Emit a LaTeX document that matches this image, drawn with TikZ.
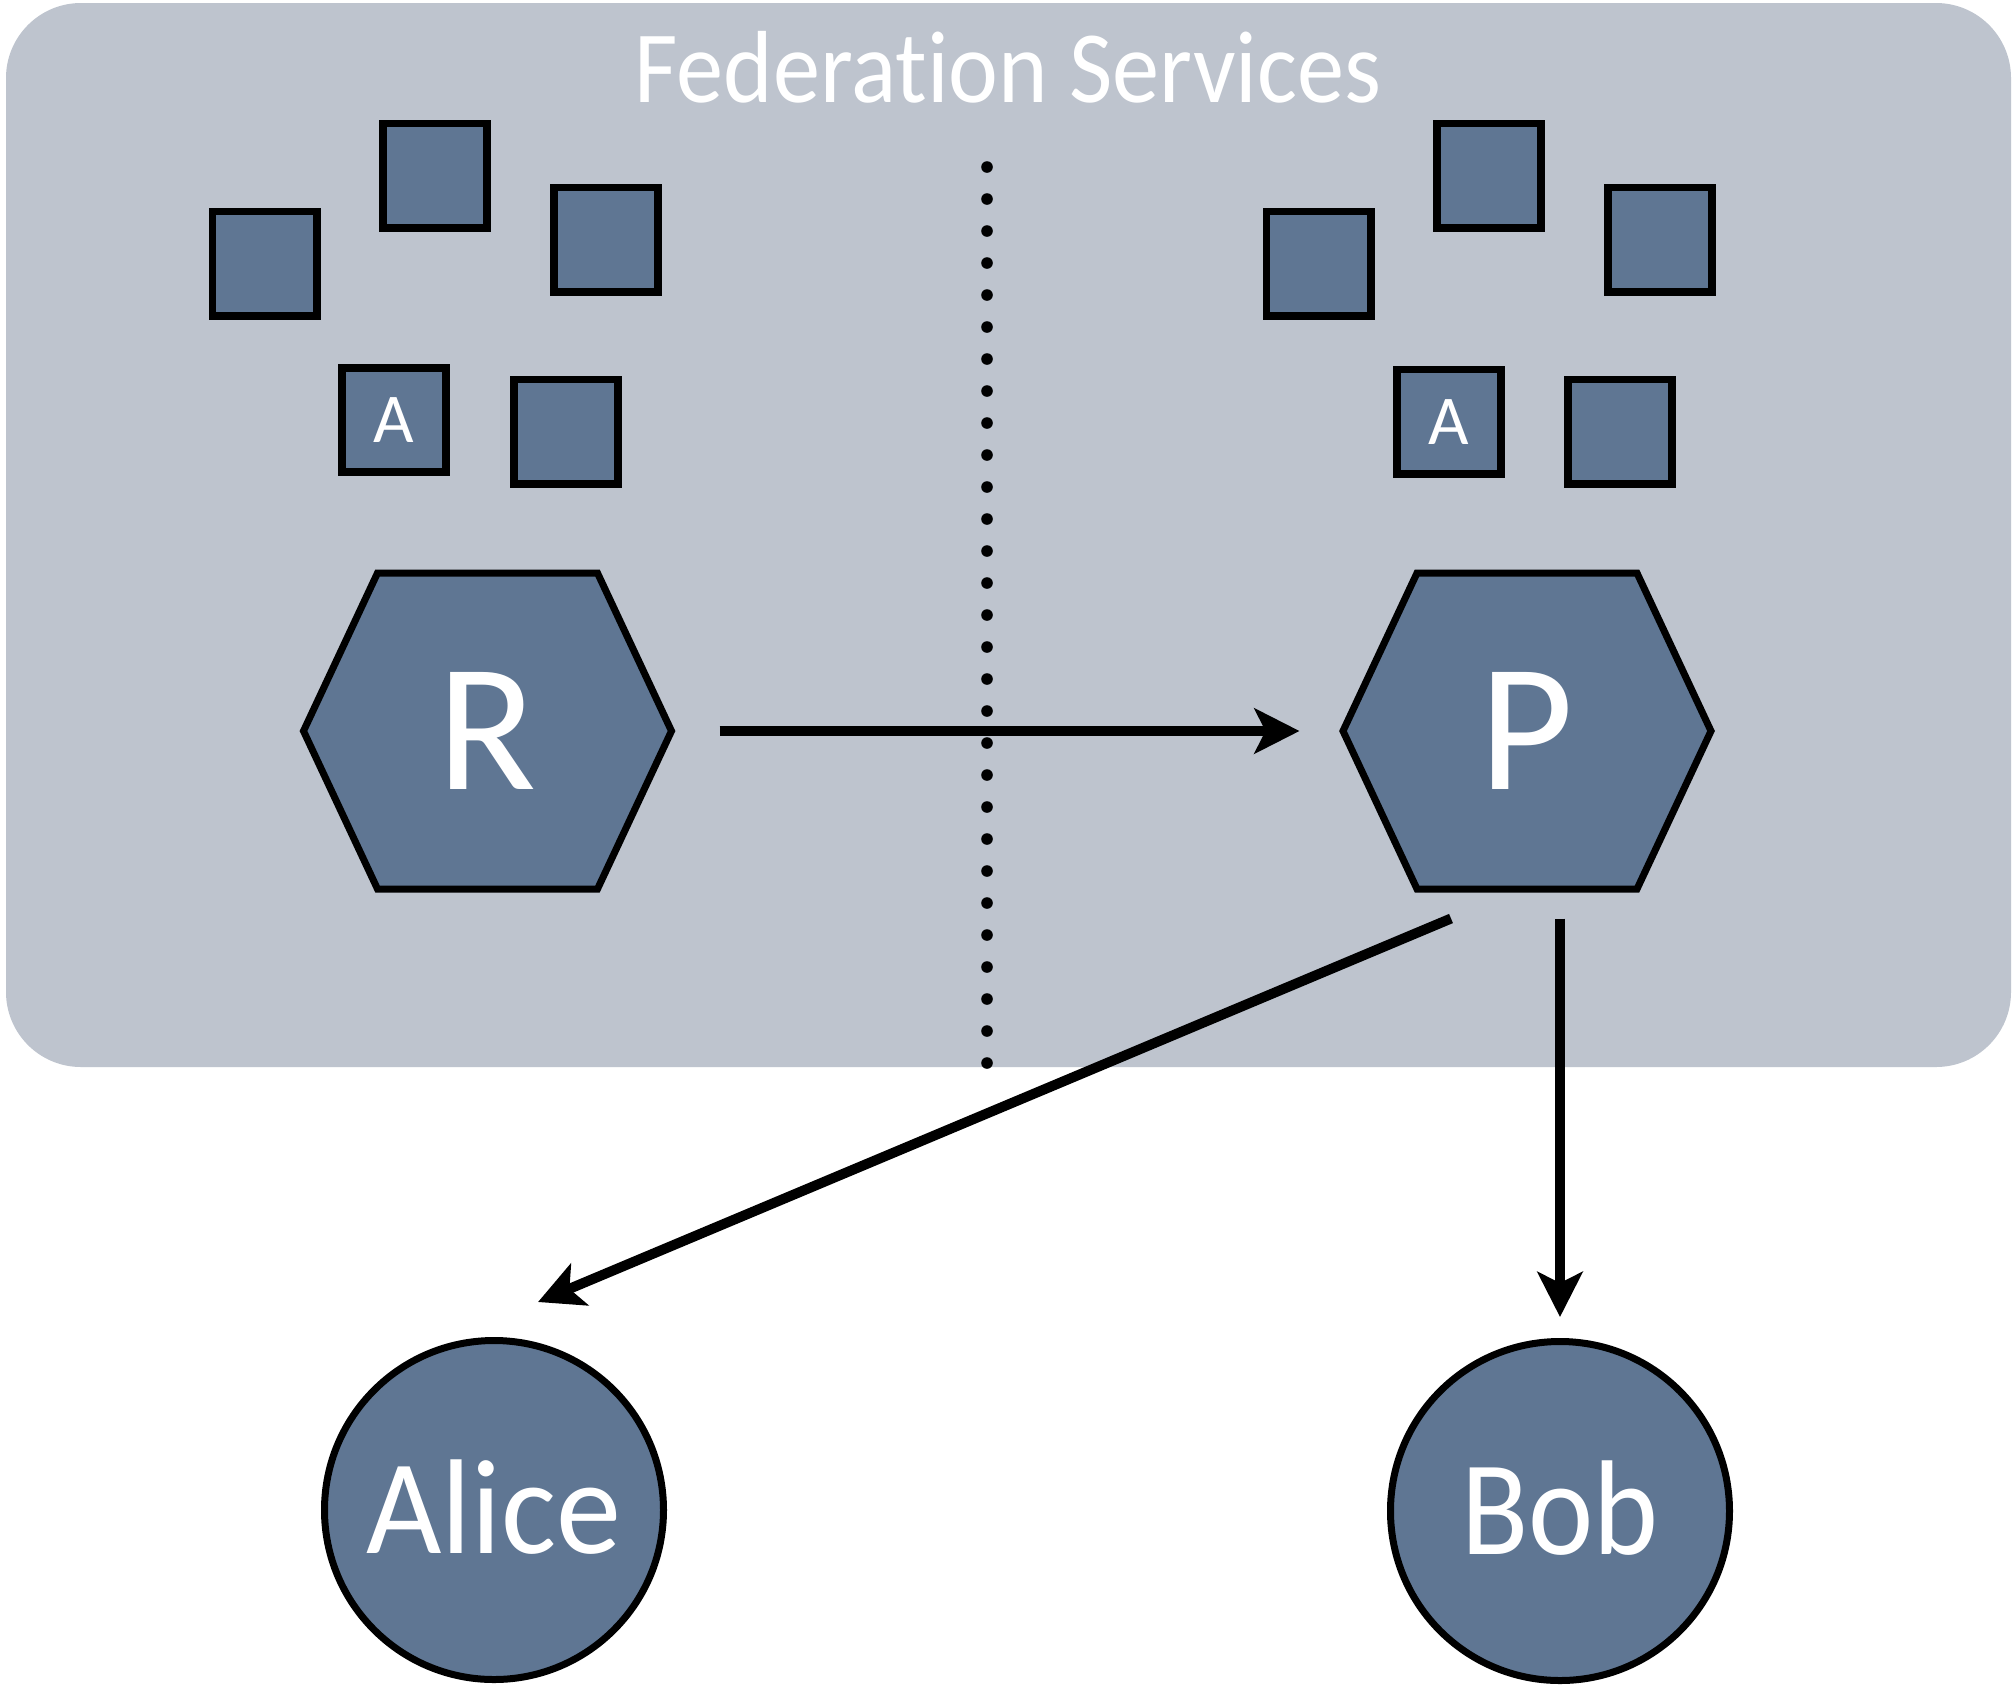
\documentclass[tikz,border=0pt]{standalone}
\usepackage{fontspec}
\setmainfont{Carlito}[Ligatures={NoCommon}]
\usetikzlibrary{arrows.meta,calc}
\definecolor{panelgray}{RGB}{190,196,206}
\definecolor{slateblue}{RGB}{95,118,147}
\begin{document}
\begin{tikzpicture}[x=0.4pt,y=-0.4pt,
  titletext/.style={text=white,font=\fontsize{41}{41}\selectfont,text height=26.4pt,text depth=0pt,inner sep=0pt},
  sqbox/.style={draw=black,line width=3.1pt,fill=slateblue,minimum size=41.7pt,inner sep=0pt,text=white,font=\fontsize{28}{28}\selectfont,text height=18pt,text depth=0pt},
  hexshape/.style={draw=black,line width=2.8pt,fill=slateblue,line join=miter},
  hexlabel/.style={minimum width=148pt,minimum height=127.2pt,inner sep=0pt,text=white,font=\fontsize{73}{73}\selectfont,text height=47pt,text depth=0pt},
  person/.style={circle,draw=black,line width=2.8pt,fill=slateblue,minimum size=135.6pt,inner sep=0pt,text=white,font=\fontsize{54}{54}\selectfont,text height=34.8pt,text depth=0pt},
  arr/.style={line width=4pt,-{Stealth[length=18pt,width=18pt,inset=4.4pt]}},
  ]
\useasboundingbox (0,0) rectangle (2014,1688);
\fill[white] (0,0) rectangle (2014,1688);
% panel
\fill[panelgray, rounded corners=30pt] (6,3) rectangle (2011,1067);
\node[titletext] (title) at (1008,69) {\scalebox{0.92}[1]{Federation Services}};
% dotted divider
\foreach \i in {0,...,28} \fill[black] (987,{167+32*\i}) circle[radius=5.8];
% left squares
\node[sqbox] (l1) at (264.5,263.5) {};
\node[sqbox] (l2) at (435,175.5) {};
\node[sqbox] (l3) at (606,239.5) {};
\node[sqbox] (lA) at (394,420) {A};
\node[sqbox] (l5) at (566,431.5) {};
% right squares
\node[sqbox] (r1) at (1318.5,263.5) {};
\node[sqbox] (r2) at (1489,175.5) {};
\node[sqbox] (r3) at (1660,239.5) {};
\node[sqbox] (rA) at (1449,421.5) {A};
\node[sqbox] (r5) at (1620,431.5) {};
% hexagons
\foreach \cx in {487.5,1527}
  \draw[hexshape] ({\cx-184},731) -- ({\cx-110},573) -- ({\cx+110},573) -- ({\cx+184},731) -- ({\cx+110},889) -- ({\cx-110},889) -- cycle;
\node[hexlabel] (R) at (487.5,731) {R};
\node[hexlabel] (P) at (1527,731) {P};
% people
\node[person] (Alice) at (494,1510) {\scalebox{0.965}[1]{Alice}};
\node[person] (Bob) at (1560,1511) {\scalebox{0.915}[1]{Bob}};
% arrows
\draw[arr, shorten <=18.6pt, shorten >=16.8pt] (R.east) -- (P.west);
\draw[arr] ($(P.south)+(-76,28)$) -- ($(Alice.center)+(44,-208)$);
\draw[arr] ($(P.south -| Bob.center)+(0,28)$) -- ($(Bob.center)+(0,-194)$);
\end{tikzpicture}
\end{document}
